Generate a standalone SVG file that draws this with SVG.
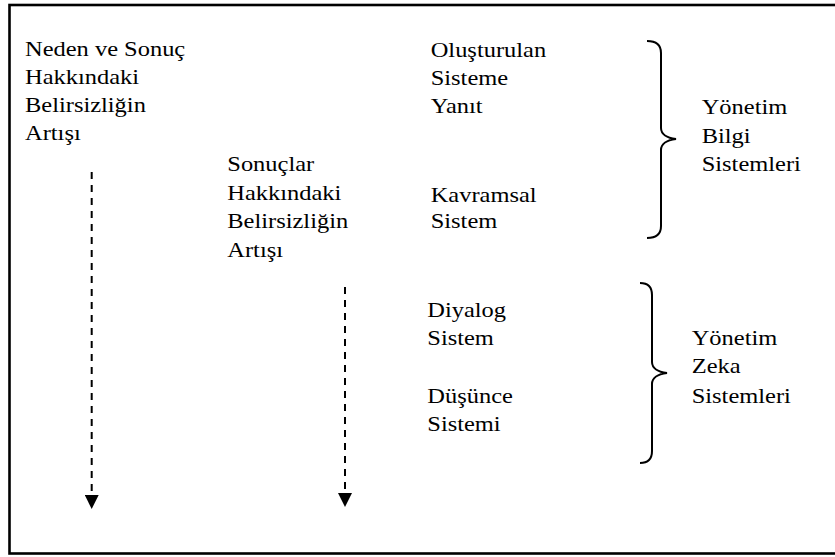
<svg xmlns="http://www.w3.org/2000/svg" width="835" height="557" viewBox="0 0 835 557">
  <style>
    .t { font-family: "Liberation Serif", "Times New Roman", serif; font-size: 21px; fill: #000; }
    .frame { fill: none; stroke: #000; stroke-width: 2.6; }
    .dash { fill: none; stroke: #000; stroke-width: 2; stroke-dasharray: 7 6; }
    .brace { fill: none; stroke: #000; stroke-width: 2; }
  </style>
  <defs>
    <marker id="head" viewBox="0 0 14 14" markerWidth="14" markerHeight="14" markerUnits="userSpaceOnUse" refX="0" refY="7" orient="auto">
      <path d="M0,0 L14,7 L0,14 Z" fill="#000"/>
    </marker>
  </defs>
  <rect width="835" height="557" fill="#fff"/>
  <!-- outer frame (right edge runs off the canvas) -->
  <rect class="frame" x="9.5" y="5" width="840" height="548.5"/>

  <g id="cause-effect-uncertainty" transform="translate(25,0) scale(1.165,1)">
    <text class="t" x="0" y="56.5">Neden ve Sonuç</text>
    <text class="t" x="0" y="84.5">Hakkındaki</text>
    <text class="t" x="0" y="112.5">Belirsizliğin</text>
    <text class="t" x="0" y="140.5">Artışı</text>
  </g>
  <g id="outcome-uncertainty" transform="translate(227.3,0) scale(1.165,1)">
    <text class="t" x="0" y="171.5">Sonuçlar</text>
    <text class="t" x="0" y="200">Hakkındaki</text>
    <text class="t" x="0" y="228.5">Belirsizliğin</text>
    <text class="t" x="0" y="257">Artışı</text>
  </g>
  <g id="response-system" transform="translate(430.7,0) scale(1.165,1)">
    <text class="t" x="0" y="56.7">Oluşturulan</text>
    <text class="t" x="0" y="85">Sisteme</text>
    <text class="t" x="0" y="113.3">Yanıt</text>
  </g>
  <g id="conceptual-system" transform="translate(430.7,0) scale(1.165,1)">
    <text class="t" x="0" y="201.7">Kavramsal</text>
    <text class="t" x="0" y="228.3">Sistem</text>
  </g>
  <g id="mis" transform="translate(701.7,0) scale(1.165,1)">
    <text class="t" x="0" y="114.3">Yönetim</text>
    <text class="t" x="0" y="142.7">Bilgi</text>
    <text class="t" x="0" y="171">Sistemleri</text>
  </g>
  <g id="dialog-system" transform="translate(427.3,0) scale(1.165,1)">
    <text class="t" x="0" y="316.7">Diyalog</text>
    <text class="t" x="0" y="345">Sistem</text>
  </g>
  <g id="reasoning-system" transform="translate(427.3,0) scale(1.165,1)">
    <text class="t" x="0" y="403.3">Düşünce</text>
    <text class="t" x="0" y="431">Sistemi</text>
  </g>
  <g id="mis-intelligence" transform="translate(691.7,0) scale(1.165,1)">
    <text class="t" x="0" y="345">Yönetim</text>
    <text class="t" x="0" y="373.3">Zeka</text>
    <text class="t" x="0" y="403">Sistemleri</text>
  </g>

  <g id="connectors">
    <line class="dash" x1="91.7" y1="172" x2="91.7" y2="495" marker-end="url(#head)"/>
    <line class="dash" x1="345" y1="287" x2="345" y2="493" marker-end="url(#head)"/>
    <path class="brace" d="M647,41 C656,41 661,45 661,53 L661,128 C661,134 667,138 676,139 C667,140 661,144 661,150 L661,226 C661,234 656,238 647,238"/>
    <path class="brace" d="M640,283 C648,283 652,287 652,295 L652,362 C652,368 658,372 667,373 C658,374 652,378 652,384 L652,451 C652,459 648,463 640,463"/>
  </g>
</svg>
